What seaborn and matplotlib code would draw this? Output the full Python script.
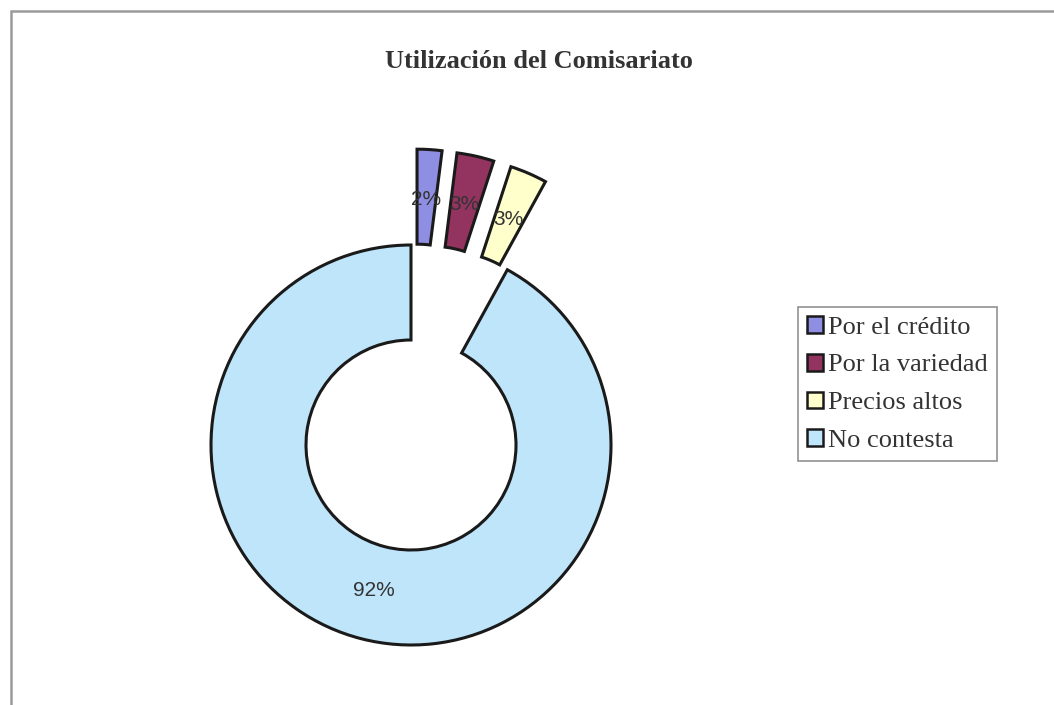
import matplotlib
matplotlib.use("Agg")
import matplotlib.pyplot as plt
from matplotlib.patches import Rectangle
import seaborn as sns

# Survey answers and their shares (%)
categories = ["Por el crédito", "Por la variedad", "Precios altos", "No contesta"]
shares = [2, 3, 3, 92]
colors = ["#8E8EE2", "#933360", "#FFFFCC", "#BFE5FA"]
explode = [0.48, 0.48, 0.48, 0.0]
title = "Utilización del Comisariato"

sns.set_theme(style="white")
palette = sns.color_palette(colors)
plt.rcParams["font.family"] = ["Liberation Serif", "DejaVu Serif"]

fig = plt.figure(figsize=(10.54, 7.05), dpi=100)
fig.patch.set_facecolor("white")

# 1 data unit = 200 px, donut centred at pixel (411, 445)
ax = fig.add_axes([0, 0, 1, 1])
ax.axis("off")

wedges, texts, autotexts = ax.pie(
    shares,
    colors=palette,
    explode=explode,
    startangle=90,
    counterclock=False,
    radius=1.0,
    autopct="%.0f%%",
    pctdistance=0.75,
    wedgeprops=dict(width=0.475, edgecolor="#1a1a1a", linewidth=2.2),
    textprops=dict(family=["Liberation Sans", "DejaVu Sans"], fontsize=15,
                   color="#333333"),
)
ax.set_xlim(-411 / 200, (1054 - 411) / 200)
ax.set_ylim(-(705 - 445) / 200, 445 / 200)

fig.text(539 / 1054, 1 - 61 / 705, title, ha="center", va="center",
         fontsize=19, fontweight="bold", color="#333333")

leg = fig.legend(
    wedges, categories,
    loc="center left",
    bbox_to_anchor=(798 / 1054, 1 - 384 / 705),
    frameon=True, fancybox=False,
    fontsize=19,
    handlelength=0.6, handleheight=0.6, handletextpad=0.2,
    labelspacing=0.57, borderpad=0.35, borderaxespad=0,
)
leg.get_frame().set_edgecolor("#777777")
leg.get_frame().set_linewidth(1.2)
for t in leg.get_texts():
    t.set_color("#333333")
for h in leg.legend_handles:
    h.set_linewidth(1.8)

# Outer chart frame
fig.patches.append(Rectangle((11 / 1054, -0.02), 1.1, (705 - 11) / 705 + 0.02,
                             transform=fig.transFigure, fill=False,
                             edgecolor="#9a9a9a", linewidth=1.8))

fig.savefig("out.png", dpi=100)
